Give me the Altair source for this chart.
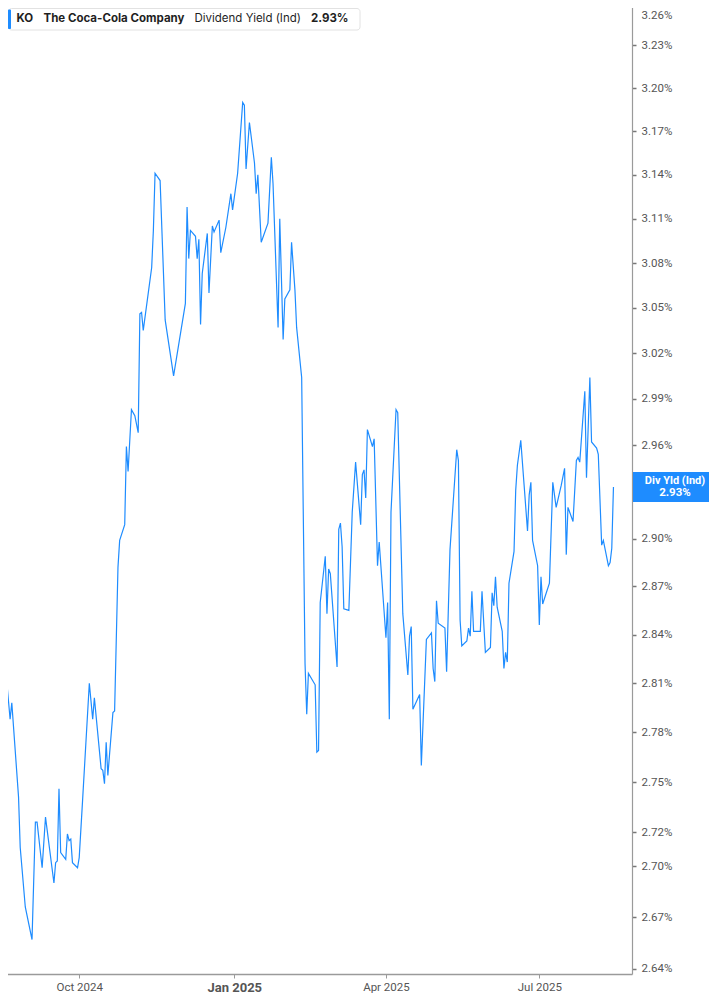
import altair as alt
import pandas as pd

# ---------------- data ----------------
# trading-day vertices, as day offsets from 2024-10-01
day_offsets = [
    -47, -46, -43, -41, -40, -36, -35, -32, -28, -26,
    -25, -22, -20, -15, -14, -13, -12, -11, -8, -7,
    -6, -5, -4, -1, 0, 2, 6, 8, 9, 13,
    14, 15, 16, 17, 20, 21, 23, 24, 27, 28,
    29, 31, 33, 35, 36, 37, 38, 43, 44, 45,
    48, 51, 56, 63, 64, 65, 66, 69, 70, 71,
    72, 73, 76, 77, 79, 80, 83, 84, 87, 90,
    91, 94, 97, 98, 99, 101, 104, 105, 106, 108,
    112, 114, 115, 118, 119, 121, 122, 125, 126, 128,
    129, 132, 134, 135, 136, 140, 141, 142, 143, 146,
    147, 148, 149, 153, 154, 155, 156, 157, 160, 162,
    164, 167, 168, 169, 170, 171, 174, 175, 177, 178,
    182, 183, 184, 185, 188, 189, 192, 195, 196, 197,
    198, 202, 203, 206, 209, 210, 211, 212, 213, 217,
    218, 220, 224, 225, 226, 227, 230, 231, 232, 233,
    234, 238, 239, 241, 244, 245, 246, 247, 248, 251,
    252, 253, 254, 255, 258, 259, 260, 262, 264, 266,
    267, 268, 269, 272, 273, 274, 275, 279, 281, 283,
    286, 288, 289, 290, 293, 295, 296, 297, 300, 301,
    303, 304, 307, 308, 310, 311, 314, 315, 316, 317,
]

# dividend yield (%)
yields = [
    2.826, 2.804, 2.811, 2.788, 2.798, 2.741, 2.711, 2.676, 2.657, 2.726,
    2.726, 2.699, 2.729, 2.690, 2.702, 2.703, 2.746, 2.708, 2.704, 2.719,
    2.715, 2.716, 2.702, 2.699, 2.705, 2.739, 2.810, 2.788, 2.801, 2.758,
    2.757, 2.749, 2.774, 2.754, 2.792, 2.793, 2.882, 2.899, 2.909, 2.959,
    2.943, 2.983, 2.979, 2.968, 3.046, 3.047, 3.035, 3.077, 3.102, 3.141,
    3.136, 3.042, 3.005, 3.053, 3.118, 3.083, 3.102, 3.098, 3.083, 3.096,
    3.039, 3.073, 3.100, 3.060, 3.105, 3.101, 3.109, 3.087, 3.104, 3.127,
    3.116, 3.141, 3.190, 3.188, 3.144, 3.176, 3.148, 3.127, 3.140, 3.094,
    3.107, 3.152, 3.134, 3.037, 3.110, 3.029, 3.056, 3.062, 3.094, 3.062,
    3.037, 3.004, 2.822, 2.791, 2.816, 2.809, 2.768, 2.769, 2.860, 2.889,
    2.853, 2.881, 2.878, 2.820, 2.906, 2.910, 2.895, 2.856, 2.855, 2.917,
    2.949, 2.909, 2.941, 2.944, 2.926, 2.970, 2.959, 2.964, 2.883, 2.898,
    2.838, 2.860, 2.788, 2.917, 2.983, 2.981, 2.853, 2.815, 2.839, 2.845,
    2.794, 2.803, 2.760, 2.837, 2.841, 2.819, 2.811, 2.861, 2.847, 2.844,
    2.817, 2.893, 2.957, 2.950, 2.849, 2.833, 2.836, 2.844, 2.839, 2.867,
    2.842, 2.842, 2.867, 2.829, 2.832, 2.866, 2.858, 2.876, 2.857, 2.842,
    2.819, 2.829, 2.823, 2.872, 2.892, 2.931, 2.947, 2.963, 2.934, 2.905,
    2.928, 2.936, 2.899, 2.883, 2.846, 2.876, 2.859, 2.872, 2.936, 2.920,
    2.934, 2.945, 2.890, 2.920, 2.911, 2.950, 2.952, 2.949, 2.995, 2.939,
    3.004, 2.962, 2.958, 2.954, 2.896, 2.899, 2.883, 2.885, 2.894, 2.933,
]

# the 2.93% tick sits behind the value badge, so it is not listed
y_ticks = [2.64, 2.67, 2.70, 2.72, 2.75, 2.78, 2.81, 2.84, 2.87, 2.90,
           2.96, 2.99, 3.02, 3.05, 3.08, 3.11, 3.14, 3.17, 3.20, 3.23, 3.26]
x_tick_months = [(2024, 10), (2025, 1), (2025, 4), (2025, 7)]

ticker = "KO"
company = "The Coca-Cola Company"
metric = "Dividend Yield (Ind)"
badge_caption = "Div Yld (Ind)"
last_label = f"{yields[-1]:.2f}%"

# ---------------- tables ----------------
dates = (pd.Timestamp("2024-10-01") + pd.to_timedelta(day_offsets, unit="D")).strftime("%Y-%m-%d")
df = pd.DataFrame({"date": list(dates), "yield": yields})
last_df = pd.DataFrame({"yield": [yields[-1]]})
one = pd.DataFrame({"k": [0]})

# ---------------- style ----------------
W, H = 624, 966
RIGHT = 77
BLUE = "#1e8cff"
GREY = "#9a9a9a"
LABEL = "#555555"

x_scale = alt.Scale(
    type="utc",
    domain=[alt.DateTime(year=2024, month=8, date=15, utc=True),
            alt.DateTime(year=2025, month=8, date=25, utc=True)],
    range=[-8, W],
)
y_scale = alt.Scale(type="log", domain=[2.6371, 3.2621], range=[H, -8], nice=False)

is_jan = "utcmonth(datum.value) == 0"
x_axis = alt.Axis(
    values=[alt.DateTime(year=y, month=m, date=1, utc=True) for y, m in x_tick_months],
    labelExpr="utcFormat(datum.value, '%b %Y')",
    labelFontWeight={"condition": {"test": is_jan, "value": "bold"}, "value": "normal"},
    labelFontSize={"condition": {"test": is_jan, "value": 13}, "value": 11.5},
    labelColor=LABEL, labelFont="Roboto", labelPadding=3,
    tickSize=4, tickColor=GREY, domainColor=GREY, domainWidth=1.5,
    grid=False, zindex=0, labelOverlap=False,
)
y_axis = alt.Axis(
    orient="right", values=y_ticks,
    labelExpr="format(datum.value, '.2f') + '%'",
    labelColor=LABEL, labelFont="Roboto", labelFontSize=11.5, labelPadding=5,
    labelOffset={"condition": {"test": "datum.value > 3.255", "value": 13}, "value": 0},
    tickSize=4, tickWidth=1.5, tickColor="#777777",
    domainColor=GREY, domainWidth=1.2,
    grid=False, zindex=0, labelOverlap=False,
)

X = alt.X("date:T", scale=x_scale, axis=x_axis, title="")
Y = alt.Y("yield:Q", scale=y_scale, axis=y_axis, title="")

line = alt.Chart(df).mark_line(color=BLUE, strokeWidth=1.2, clip=True).encode(x=X, y=Y)

BOX_W = RIGHT - 1
BOX_PATH = "M-1,-{r:.4f}L1,-{r:.4f}L1,{r:.4f}L-1,{r:.4f}Z".format(r=15 / (BOX_W / 2))
BOX_CX = W + 1 + BOX_W / 2
badge = alt.Chart(last_df).mark_point(
    shape=BOX_PATH, size=BOX_W * BOX_W, filled=True, color=BLUE, opacity=1, strokeWidth=0
).encode(x=alt.value(BOX_CX), y=Y)
badge_t1 = alt.Chart(last_df).mark_text(
    color="white", font="Roboto", fontWeight="bold", fontSize=11, dy=-6
).encode(x=alt.value(BOX_CX + 4), y=Y, text=alt.value(badge_caption))
badge_t2 = alt.Chart(last_df).mark_text(
    color="white", font="Roboto", fontWeight="bold", fontSize=11.5, dy=6
).encode(x=alt.value(BOX_CX + 4), y=Y, text=alt.value(last_label))

# legend / title box at top-left
box = alt.Chart(one).mark_rect(
    fill="white", stroke="#e2e2e2", strokeWidth=1, cornerRadius=3
).encode(x=alt.value(0.5), x2=alt.value(352), y=alt.value(0.5), y2=alt.value(22))
bar = alt.Chart(one).mark_rect(fill=BLUE, cornerRadius=1).encode(
    x=alt.value(0), x2=alt.value(3), y=alt.value(1.5), y2=alt.value(21))

title_parts = [(ticker, 8.5, "bold"), (company, 35.5, "bold"),
               (metric, 186.5, "normal"), (last_label, 303, "bold")]
texts = [
    alt.Chart(one).mark_text(
        align="left", baseline="middle", font="Inter", fontSize=11.5,
        fontWeight=wt, color="#1f1f1f"
    ).encode(x=alt.value(xp), y=alt.value(11), text=alt.value(t))
    for t, xp, wt in title_parts
]

chart = alt.layer(line, badge, badge_t1, badge_t2, box, bar, *texts).properties(
    width=W, height=H,
    autosize=alt.AutoSizeParams(type="none"),
    padding={"left": 0, "top": 0, "right": RIGHT, "bottom": 19},
    background="white",
).configure_view(strokeWidth=0)

chart.save("out.html", embed_options={"renderer": "svg", "actions": False})
